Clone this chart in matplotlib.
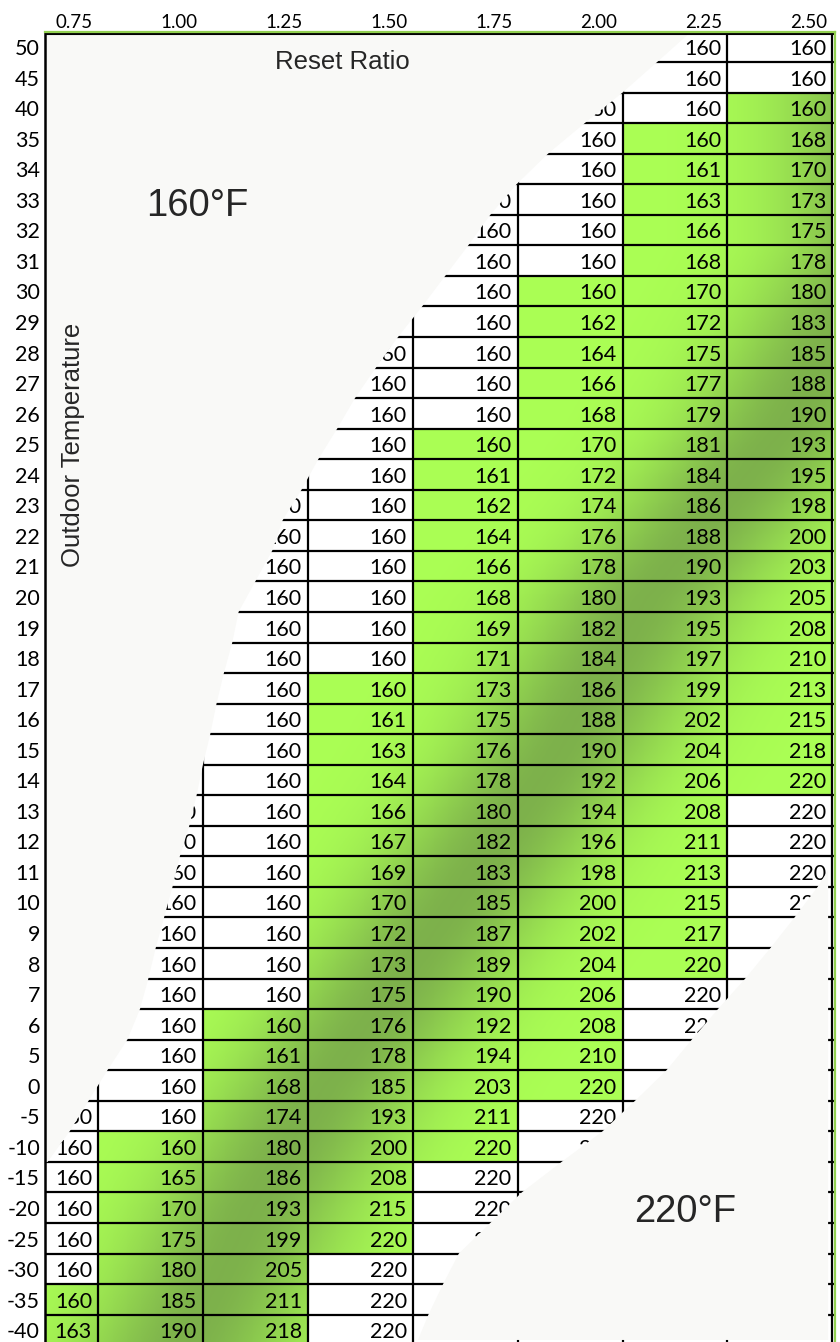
import numpy as np
import matplotlib
matplotlib.use("Agg")
import matplotlib.pyplot as plt
from matplotlib.patches import Polygon
from matplotlib.path import Path

# ---- table data ------------------------------------------------------------------------------
reset_ratios = ["0.75", "1.00", "1.25", "1.50", "1.75", "2.00", "2.25", "2.50"]
outdoor_temps = [50, 45, 40, 35, 34, 33, 32, 31, 30, 29,
                 28, 27, 26, 25, 24, 23, 22, 21, 20, 19,
                 18, 17, 16, 15, 14, 13, 12, 11, 10, 9,
                 8, 7, 6, 5, 0, -5, -10, -15, -20, -25,
                 -30, -35, -40]

# supply water temperature for each reset ratio, rows in the order of outdoor_temps
supply_075 = [160, 160, 160, 160, 160, 160, 160, 160, 160, 160,
              160, 160, 160, 160, 160, 160, 160, 160, 160, 160,
              160, 160, 160, 160, 160, 160, 160, 160, 160, 160,
              160, 160, 160, 160, 160, 160, 160, 160, 160, 160,
              160, 160, 163]
supply_100 = [160, 160, 160, 160, 160, 160, 160, 160, 160, 160,
              160, 160, 160, 160, 160, 160, 160, 160, 160, 160,
              160, 160, 160, 160, 160, 160, 160, 160, 160, 160,
              160, 160, 160, 160, 160, 160, 160, 165, 170, 175,
              180, 185, 190]
supply_125 = [160, 160, 160, 160, 160, 160, 160, 160, 160, 160,
              160, 160, 160, 160, 160, 160, 160, 160, 160, 160,
              160, 160, 160, 160, 160, 160, 160, 160, 160, 160,
              160, 160, 160, 161, 168, 174, 180, 186, 193, 199,
              205, 211, 218]
supply_150 = [160, 160, 160, 160, 160, 160, 160, 160, 160, 160,
              160, 160, 160, 160, 160, 160, 160, 160, 160, 160,
              160, 160, 161, 163, 164, 166, 167, 169, 170, 172,
              173, 175, 176, 178, 185, 193, 200, 208, 215, 220,
              220, 220, 220]
supply_175 = [160, 160, 160, 160, 160, 160, 160, 160, 160, 160,
              160, 160, 160, 160, 161, 162, 164, 166, 168, 169,
              171, 173, 175, 176, 178, 180, 182, 183, 185, 187,
              189, 190, 192, 194, 203, 211, 220, 220, 220, 220,
              220, 220, 220]
supply_200 = [160, 160, 160, 160, 160, 160, 160, 160, 160, 162,
              164, 166, 168, 170, 172, 174, 176, 178, 180, 182,
              184, 186, 188, 190, 192, 194, 196, 198, 200, 202,
              204, 206, 208, 210, 220, 220, 220, 220, 220, 220,
              220, 220, 220]
supply_225 = [160, 160, 160, 160, 161, 163, 166, 168, 170, 172,
              175, 177, 179, 181, 184, 186, 188, 190, 193, 195,
              197, 199, 202, 204, 206, 208, 211, 213, 215, 217,
              220, 220, 220, 220, 220, 220, 220, 220, 220, 220,
              220, 220, 220]
supply_250 = [160, 160, 160, 168, 170, 173, 175, 178, 180, 183,
              185, 188, 190, 193, 195, 198, 200, 203, 205, 208,
              210, 213, 215, 218, 220, 220, 220, 220, 220, 220,
              220, 220, 220, 220, 220, 220, 220, 220, 220, 220,
              220, 220, 220]

# ---- decoration: outlines of the two faded corners (column index, row index) ----------------------
upper_mask_x = [6.14, 5.83, 5.50, 5.14, 4.79, 4.49, 4.24, 4.03, 3.81, 3.59,
                3.36, 3.15, 2.95, 2.78, 2.60, 2.44, 2.26, 2.16, 2.00, 1.84,
                1.78, 1.70, 1.63, 1.57, 1.50, 1.44, 1.37, 1.28, 1.21, 1.13,
                1.05, 0.98, 0.90, 0.78, 0.59, 0.41, 0.23, 0.02]
upper_mask_y = [-0.45] + [r + 0.5 for r in range(37)]
lower_mask_x = [7.46, 7.36, 7.14, 6.91, 6.67, 6.41, 6.16, 5.92, 5.62, 5.31,
                4.92, 4.54, 4.24, 3.94, 3.79, 3.65, 3.55]
lower_mask_y = [26.95, 27.5, 28.5, 29.5, 30.5, 31.5, 32.5, 33.5, 34.5, 35.5,
                36.5, 37.5, 38.5, 39.5, 40.5, 41.5, 42.33]
# centre of the darker sheen across the green cells (pixels)
sheen_py = [250, 420, 600, 750, 930, 1090, 1210, 1400]
sheen_px = [890, 790, 645, 560, 435, 322, 252, 160]

# ---- style -------------------------------------------------------------------------------------
W, H = 840, 1342
COL_PX, ROW_PX = 104.9, 30.55          # cell size in pixels
GREEN = np.array([0.67, 1.0, 0.33])
SHADE = np.array([0.46, 0.64, 0.29])
FADE = "#f9f9f7"
SPINE_GREEN = "#92d050"
cell_font, cell_fs = "Lato", 15.5
head_font = "Lato"
label_font = "Liberation Sans"

columns = [supply_075, supply_100, supply_125, supply_150,
           supply_175, supply_200, supply_225, supply_250]
values = np.array(columns).T          # rows x columns
n_rows, n_cols = values.shape

# green = values on the reset slope, plus the first 160 / first 220 of each column
green = (values > 160) & (values < 220)
green[:-1] |= (values[:-1] == 160) & (values[1:] > 160)
green[1:] |= (values[1:] == 220) & (values[:-1] < 220)

fig = plt.figure(figsize=(W / 100, H / 100), dpi=100)
fig.patch.set_facecolor("white")
ax_left, ax_top, ax_right = 45, 32, 835
ax = fig.add_axes([ax_left / W, 0, (ax_right - ax_left) / W, (H - ax_top) / H])
x_lo = (ax_left - 98) / COL_PX + 0.5
x_hi = (ax_right - 98) / COL_PX + 0.5
y_top = (ax_top - 31.5) / ROW_PX - 0.5
y_bot = (H - 31.5) / ROW_PX - 0.5
ax.set_xlim(x_lo, x_hi)
ax.set_ylim(y_bot, y_top)
ax.set_facecolor("white")
ax.set_xticks([])
ax.set_yticks([])

# green cells with a darker diagonal sheen
gx = np.linspace(-0.5, n_cols - 0.5, 900)
gy = np.linspace(-0.5, n_rows - 0.5, 1400)
GX, GY = np.meshgrid(gx, gy)
ci = np.clip(np.round(GX).astype(int), 0, n_cols - 1)
ri = np.clip(np.round(GY).astype(int), 0, n_rows - 1)
px = 98 + COL_PX * (GX - 0.5)
py = 31.5 + ROW_PX * (GY + 0.5)
centre = np.interp(py, sheen_py, sheen_px)
dist = (px - centre) * 0.82
k = 0.85 * np.exp(-0.5 * (dist / 62.0) ** 2)
rgba = np.zeros(GX.shape + (4,))
rgba[..., :3] = GREEN * (1 - k[..., None]) + SHADE * k[..., None]
rgba[..., 3] = green[ri, ci].astype(float)
ax.imshow(rgba, extent=(-0.5, n_cols - 0.5, n_rows - 0.5, -0.5), origin="upper",
          aspect="auto", interpolation="nearest", zorder=1)

# faded corners
upper = ([(-1, -1), (upper_mask_x[0] + 0.05, -1)] + list(zip(upper_mask_x, upper_mask_y))
         + [(-1, 37.3)])
lower = [(7.46, 26.95)] + list(zip(lower_mask_x, lower_mask_y)) + [(7.46, lower_mask_y[-1])]
masks = [Path(upper), Path(lower)]

# cell values (the ones wholly under a faded corner are not drawn)
for j in range(n_cols):
    for i in range(n_rows):
        x_r = j + 0.5 - 6 / COL_PX
        y_b = i + 8.3 / ROW_PX
        box = [(x_r, y_b), (x_r - 0.34, y_b), (x_r, y_b - 0.55), (x_r - 0.34, y_b - 0.55)]
        if any(m.contains_points(box).all() for m in masks):
            continue
        ax.text(x_r, y_b, str(values[i, j]),
                ha="right", va="baseline", fontsize=cell_fs, family=cell_font,
                color="black", zorder=3)

# grid lines
for i in range(n_rows):
    ax.axhline(i + 0.5, color="black", lw=1.6, zorder=3.5)
for j in range(n_cols):
    ax.axvline(j + 0.5, color="black", lw=1.6, zorder=3.5)

ax.add_patch(Polygon(upper, closed=True, fc=FADE, ec="none", zorder=4))
ax.add_patch(Polygon(lower, closed=True, fc=FADE, ec="none", zorder=4))

ax.axhline(y_top + 2.3 / ROW_PX, color="black", lw=1.5, zorder=6)

# corner labels
ax.text((342 - 98) / COL_PX + 0.5, (62 - 31.5) / ROW_PX - 0.5, "Reset Ratio",
        ha="center", va="center", fontsize=18.5, family=label_font, color="#262626", zorder=6)
ax.text((73 - 98) / COL_PX + 0.5, (445 - 31.5) / ROW_PX - 0.5, "Outdoor Temperature",
        ha="center", va="center", rotation=90, fontsize=18.5, family=label_font,
        color="#262626", zorder=6)
ax.text((197 - 98) / COL_PX + 0.5, (206 - 31.5) / ROW_PX - 0.5, "160°F",
        ha="center", va="center", fontsize=27.5, family=label_font, color="#262626", zorder=6)
ax.text((685 - 98) / COL_PX + 0.5, (1212 - 31.5) / ROW_PX - 0.5, "220°F",
        ha="center", va="center", fontsize=27.5, family=label_font, color="#262626", zorder=6)

# header row and outdoor temperature column
for j, lab in enumerate(reset_ratios):
    ax.text(j + 0.5 - 5 / COL_PX, 1 + 4 / (H - ax_top), lab, transform=ax.get_xaxis_transform(),
            ha="right", va="baseline", fontsize=13.5, family=head_font, color="black",
            clip_on=False)
for i, t in enumerate(outdoor_temps):
    ax.text(-5 / (ax_right - ax_left), i + 8.3 / ROW_PX, str(t), transform=ax.get_yaxis_transform(),
            ha="right", va="baseline", fontsize=cell_fs, family=cell_font, color="black",
            clip_on=False)

for side in ["top", "right", "bottom", "left"]:
    ax.spines[side].set_zorder(7)
ax.spines["left"].set_color("black")
ax.spines["left"].set_linewidth(1.8)
ax.spines["top"].set_color(SPINE_GREEN)
ax.spines["top"].set_linewidth(1.6)
ax.spines["right"].set_color(SPINE_GREEN)
ax.spines["right"].set_linewidth(1.6)
ax.spines["bottom"].set_visible(False)

fig.savefig("out.png", dpi=100, facecolor="white")
